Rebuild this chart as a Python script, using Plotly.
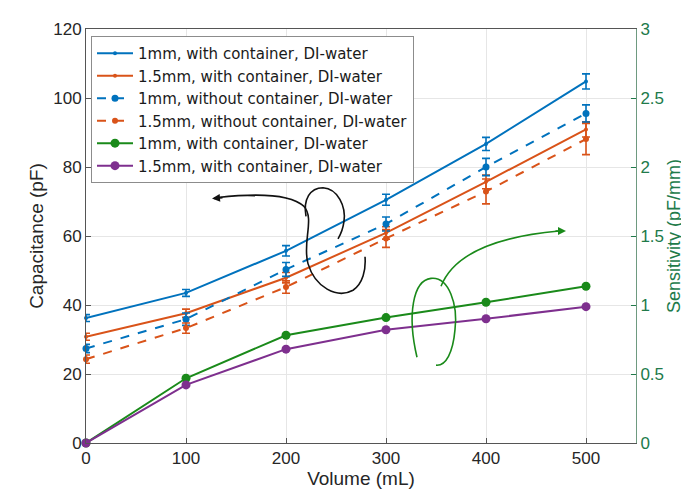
import plotly.graph_objects as go

# ---------------- data ----------------
volume = [0, 100, 200, 300, 400, 500]

cap_1mm_with = [36.2, 43.5, 55.7, 70.5, 86.7, 104.8]
err_1mm_with = [1.0, 1.0, 1.5, 1.6, 1.9, 2.2]
cap_15mm_with = [30.8, 37.6, 47.9, 60.9, 75.7, 90.9]
err_15mm_with = [1.0, 1.2, 1.5, 1.8, 2.0, 2.2]
cap_1mm_without = [27.4, 35.9, 50.3, 63.5, 80.0, 95.5]
err_1mm_without = [1.2, 1.8, 2.0, 2.0, 2.5, 2.5]
cap_15mm_without = [24.3, 33.3, 45.2, 59.3, 72.9, 88.1]
err_15mm_without = [1.2, 1.5, 1.8, 2.6, 3.6, 4.5]

sens_1mm = [0, 0.469, 0.781, 0.909, 1.02, 1.136]
sens_15mm = [0, 0.421, 0.68, 0.821, 0.90, 0.988]

names = [
    "1mm, with container, DI-water",
    "1.5mm, with container, DI-water",
    "1mm, without container, DI-water",
    "1.5mm, without container, DI-water",
    "1mm, with container, DI-water",
    "1.5mm, with container, DI-water",
]
x_ticks = [0, 100, 200, 300, 400, 500]

BLUE = "#0072BD"
ORANGE = "#D95319"
GREEN = "#1a8a1a"
PURPLE = "#7E2F8E"
AXGREEN = "#217a4a"
FONT = "Liberation Sans, Arial, sans-serif"

fig = go.Figure()

def cap_trace(y, err, name, color, dash, msize):
    return go.Scatter(
        x=volume, y=y, name=name, mode="lines+markers",
        line=dict(color=color, width=2, dash=dash),
        marker=dict(color=color, size=msize, symbol="circle"),
        error_y=dict(type="data", array=err, visible=True, color=color, thickness=1.6, width=4),
        cliponaxis=False,
    )

fig.add_trace(cap_trace(cap_1mm_with, err_1mm_with, names[0], BLUE, "solid", 4))
fig.add_trace(cap_trace(cap_15mm_with, err_15mm_with, names[1], ORANGE, "solid", 4))
fig.add_trace(cap_trace(cap_1mm_without, err_1mm_without, names[2], BLUE, "dash", 7))
fig.add_trace(cap_trace(cap_15mm_without, err_15mm_without, names[3], ORANGE, "dash", 6))

fig.add_trace(go.Scatter(x=volume, y=sens_1mm, name=names[4], yaxis="y2", mode="lines+markers",
                         line=dict(color=GREEN, width=2), marker=dict(color=GREEN, size=9),
                         cliponaxis=False))
fig.add_trace(go.Scatter(x=volume, y=sens_15mm, name=names[5], yaxis="y2", mode="lines+markers",
                         line=dict(color=PURPLE, width=2), marker=dict(color=PURPLE, size=9),
                         cliponaxis=False))

# -------- hand-drawn style arrows (pixel -> paper helper) --------
L, R, T, B = 78, 628, 15, 435
def P(xp, yp):
    return ((xp - L) / (R - L), (B - yp) / (B - T))

def path(points_cmds):
    s = ""
    for cmd, pts in points_cmds:
        s += cmd + " " + " ".join("%.4f,%.4f" % P(*p) for p in pts) + " "
    return s.strip()

black_main = path([("M", [(210, 186)]),
                   ("C", [(245, 182), (281, 181), (296, 195)]),
                   ("C", [(307, 207), (294, 232), (300, 253)]),
                   ("C", [(307, 277), (329, 289), (345, 280)]),
                   ("C", [(355, 273), (358, 259), (357, 246)])])
black_curl = path([("M", [(298, 205)]),
                   ("C", [(295, 188), (302, 176), (315, 176)]),
                   ("C", [(330, 177), (338, 195), (336, 210)]),
                   ("C", [(335, 218), (333, 223), (330, 228)])])
green_loop = path([("M", [(409, 348)]),
                   ("C", [(399, 305), (405, 270), (423, 268)]),
                   ("C", [(441, 266), (450, 295), (447, 320)]),
                   ("C", [(445, 343), (438, 357), (428, 356)])])
green_tail = path([("M", [(433, 276)]),
                   ("C", [(445, 245), (485, 226), (551, 220)])])

shapes = []
for pth, col in [(black_main, "#111111"), (black_curl, "#111111"),
                 (green_loop, GREEN), (green_tail, GREEN)]:
    shapes.append(dict(type="path", path=pth, xref="paper", yref="paper",
                       line=dict(color=col, width=1.6)))

annotations = []
bx, by = P(204, 187)
annotations.append(dict(x=bx, y=by, xref="paper", yref="paper", ax=12, ay=-1, axref="pixel",
                        ayref="pixel", showarrow=True, arrowhead=2, arrowsize=1,
                        arrowwidth=1.6, arrowcolor="#111111", text=""))
gx, gy = P(558, 220)
annotations.append(dict(x=gx, y=gy, xref="paper", yref="paper", ax=-12, ay=0, axref="pixel",
                        ayref="pixel", showarrow=True, arrowhead=2, arrowsize=1,
                        arrowwidth=1.6, arrowcolor=GREEN, text=""))

fig.update_layout(
    width=689, height=491,
    margin=dict(l=L, r=689 - R, t=T, b=491 - B),
    paper_bgcolor="white", plot_bgcolor="white",
    font=dict(family=FONT, size=17, color="#262626"),
    xaxis=dict(range=[0, 550], tickvals=x_ticks, showgrid=True, gridcolor="#e6e6e6",
               ticks="inside", ticklen=5, tickcolor="#555555", showline=True,
               linecolor="#555555", linewidth=1, mirror=True, zeroline=False,
               tickfont=dict(size=17),
               title=dict(text="Volume (mL)", font=dict(size=19), standoff=2)),
    yaxis=dict(range=[0, 120], dtick=20, showgrid=True, gridcolor="#e6e6e6",
               ticks="inside", ticklen=5, tickcolor="#555555", showline=True,
               linecolor="#555555", linewidth=1, zeroline=False,
               tickfont=dict(size=17),
               title=dict(text="Capacitance (pF)", font=dict(size=19), standoff=4)),
    yaxis2=dict(range=[0, 3], dtick=0.5, overlaying="y", side="right", showgrid=False,
                ticks="inside", ticklen=5, tickcolor=AXGREEN, showline=True,
                linecolor="#6e9a80", linewidth=1, zeroline=False,
                tickfont=dict(color=AXGREEN, size=17),
                title=dict(text="Sensitivity (pF/mm)", font=dict(size=18, color=AXGREEN), standoff=0)),
    legend=dict(x=P(83, 22)[0], y=P(83, 22)[1], xanchor="left", yanchor="top",
                bgcolor="white", bordercolor="#8c8c8c", borderwidth=1,
                font=dict(family="DejaVu Sans, sans-serif", size=15, color="#1a1a1a"),
                traceorder="normal", itemwidth=36, tracegroupgap=0),
    shapes=shapes, annotations=annotations,
    showlegend=True,
)

fig.write_html("out.html")
